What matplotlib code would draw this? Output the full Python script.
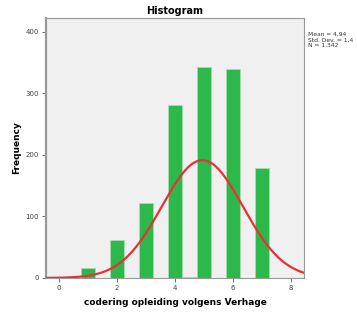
import numpy as np
import matplotlib
matplotlib.use("Agg")
import matplotlib.pyplot as plt

bin_centers = [1, 2, 3, 4, 4.5, 5, 6, 7]
counts = [16, 62, 122, 281, 1, 343, 340, 178]
mean_val = 4.94
std_val = 1.4
n_val = 1342
bin_width = 0.5
x_ticks = [0, 2, 4, 6, 8]
y_ticks = [0, 100, 200, 300, 400]

fig = plt.figure(figsize=(3.57, 3.13), dpi=100)
ax = fig.add_axes([0.129, 0.112, 0.723, 0.830])
ax.set_facecolor('#f0f0f0')

ax.bar(bin_centers, counts, width=bin_width, color='#2db84a',
       edgecolor='#a8dcb0', linewidth=0.6, zorder=2)

xs = np.linspace(-0.45, 8.45, 400)
ys = n_val * bin_width / (std_val * np.sqrt(2 * np.pi)) * np.exp(-0.5 * ((xs - mean_val) / std_val) ** 2)
ax.plot(xs, ys, color='#e8303a', linewidth=1.6, zorder=3)

ax.set_xlim(-0.45, 8.45)
ax.set_ylim(0, 422)
ax.set_xticks(x_ticks)
ax.set_yticks(y_ticks)
ax.tick_params(axis='both', labelsize=5, length=3, width=0.6, color='#555555',
               labelcolor='#444444', pad=2)

for s in ['top', 'right', 'bottom']:
    ax.spines[s].set_color('#999999')
    ax.spines[s].set_linewidth(0.8)
ax.spines['left'].set_color('#999999')
ax.spines['left'].set_linewidth(1.6)

ax.set_title('Histogram', fontsize=7, fontweight='bold', pad=3)
ax.set_xlabel('codering opleiding volgens Verhage', fontsize=6.5, fontweight='bold', labelpad=5)
ax.set_ylabel('Frequency', fontsize=6.5, fontweight='bold', labelpad=3)

fig.text(0.862, 0.898, 'Mean = 4,94\nStd. Dev. = 1,4\nN = 1.342', fontsize=4.3,
         va='top', ha='left', color='#333333', linespacing=1.1)

fig.savefig('out.png', dpi=100)
